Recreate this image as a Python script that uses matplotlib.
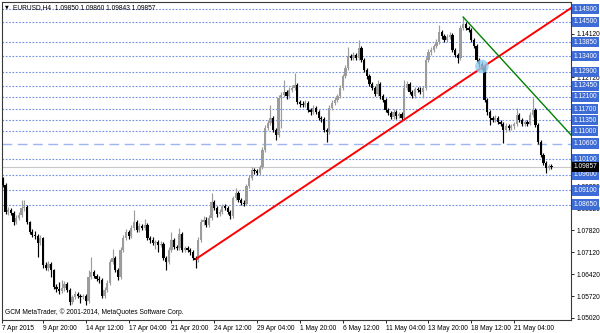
import numpy as np
import matplotlib.pyplot as plt

# EURUSD H4 candles, bar 1 .. 206
closes = [
    1.0928, 1.0841, 1.0848, 1.0838, 1.0809, 1.0822, 1.0832, 1.0854, 1.0857, 1.0809,
    1.0777, 1.0768, 1.0764, 1.0742, 1.0758, 1.0672, 1.0662, 1.0675, 1.0656, 1.0601,
    1.0595, 1.0588, 1.0598, 1.0611, 1.0592, 1.0553, 1.0569, 1.0579, 1.0572, 1.0569,
    1.0572, 1.0556, 1.0633, 1.0649, 1.0636, 1.0627, 1.0624, 1.0572, 1.0592, 1.0614,
    1.0681, 1.0694, 1.0656, 1.0633, 1.0720, 1.0758, 1.0777, 1.0764, 1.0790, 1.0809,
    1.0784, 1.0796, 1.0790, 1.0800, 1.0758, 1.0752, 1.0742, 1.0745, 1.0736, 1.0739,
    1.0694, 1.0681, 1.0720, 1.0752, 1.0729, 1.0726, 1.0771, 1.0720, 1.0726, 1.0720,
    1.0713, 1.0694, 1.0688, 1.0752, 1.0809, 1.0816, 1.0800, 1.0822, 1.0873, 1.0854,
    1.0835, 1.0841, 1.0860, 1.0854, 1.0841, 1.0828, 1.0886, 1.0902, 1.0880, 1.0870,
    1.0867, 1.0924, 1.0950, 1.0976, 1.0972, 1.0966, 1.0985, 1.1040, 1.1110, 1.1126,
    1.1142, 1.1104, 1.1088, 1.1206, 1.1216, 1.1225, 1.1212, 1.1232, 1.1238, 1.1248,
    1.1193, 1.1187, 1.1184, 1.1190, 1.1168, 1.1161, 1.1174, 1.1161, 1.1142, 1.1139,
    1.1104, 1.1097, 1.1174, 1.1190, 1.1200, 1.1212, 1.1238, 1.1276, 1.1302, 1.1340,
    1.1334, 1.1344, 1.1334, 1.1366, 1.1328, 1.1296, 1.1276, 1.1251, 1.1238, 1.1219,
    1.1251, 1.1212, 1.1200, 1.1168, 1.1158, 1.1145, 1.1161, 1.1148, 1.1155, 1.1142,
    1.1238, 1.1251, 1.1225, 1.1212, 1.1235, 1.1232, 1.1225, 1.1238, 1.1328, 1.1353,
    1.1360, 1.1372, 1.1385, 1.1417, 1.1404, 1.1392, 1.1401, 1.1408, 1.1360, 1.1344,
    1.1334, 1.1430, 1.1443, 1.1430, 1.1424, 1.1392, 1.1372, 1.1328, 1.1315, 1.1305,
    1.1200, 1.1161, 1.1142, 1.1136, 1.1142, 1.1129, 1.1123, 1.1104, 1.1116, 1.1110,
    1.1116, 1.1123, 1.1152, 1.1136, 1.1123, 1.1129, 1.1123, 1.1152, 1.1168, 1.1120,
    1.1065, 1.1024, 1.0998, 1.0982, 1.0988, 1.09857,
]
highs = [
    1.0953, 1.0935, 1.0856, 1.0855, 1.0845, 1.0830, 1.0840, 1.0880, 1.0878, 1.0862,
    1.0814, 1.0786, 1.0780, 1.0770, 1.0766, 1.0762, 1.0680, 1.0685, 1.0682, 1.0660,
    1.0610, 1.0617, 1.0624, 1.0620, 1.0618, 1.0598, 1.0576, 1.0588, 1.0585, 1.0580,
    1.0580, 1.0578, 1.0656, 1.0697, 1.0656, 1.0643, 1.0635, 1.0630, 1.0600, 1.0622,
    1.0690, 1.0724, 1.0700, 1.0662, 1.0730, 1.0768, 1.0788, 1.0785, 1.0800, 1.0848,
    1.0815, 1.0806, 1.0803, 1.0820, 1.0806, 1.0765, 1.0760, 1.0752, 1.0750, 1.0748,
    1.0744, 1.0700, 1.0728, 1.0777, 1.0758, 1.0736, 1.0790, 1.0776, 1.0734, 1.0732,
    1.0726, 1.0718, 1.0700, 1.0760, 1.0818, 1.0828, 1.0824, 1.0830, 1.0902, 1.0880,
    1.0860, 1.0850, 1.0868, 1.0866, 1.0860, 1.0846, 1.0894, 1.0918, 1.0908, 1.0886,
    1.0878, 1.0932, 1.0958, 1.0984, 1.0982, 1.0980, 1.0992, 1.1048, 1.1118, 1.1136,
    1.1184, 1.1148, 1.1110, 1.1216, 1.1225, 1.1264, 1.1232, 1.1240, 1.1246, 1.1286,
    1.1254, 1.1200, 1.1195, 1.1198, 1.1196, 1.1175, 1.1182, 1.1180, 1.1166, 1.1148,
    1.1144, 1.1110, 1.1182, 1.1198, 1.1208, 1.1220, 1.1246, 1.1284, 1.1310, 1.1369,
    1.1348, 1.1352, 1.1350, 1.1392, 1.1372, 1.1334, 1.1302, 1.1282, 1.1258, 1.1244,
    1.1264, 1.1258, 1.1218, 1.1206, 1.1175, 1.1164, 1.1170, 1.1168, 1.1162, 1.1160,
    1.1264, 1.1260, 1.1258, 1.1232, 1.1242, 1.1242, 1.1240, 1.1245, 1.1336, 1.1362,
    1.1370, 1.1380, 1.1394, 1.1440, 1.1424, 1.1410, 1.1410, 1.1416, 1.1414, 1.1366,
    1.1350, 1.1440, 1.1465, 1.1450, 1.1436, 1.1430, 1.1398, 1.1378, 1.1334, 1.1322,
    1.1310, 1.1206, 1.1168, 1.1148, 1.1150, 1.1148, 1.1136, 1.1130, 1.1125, 1.1124,
    1.1124, 1.1130, 1.1174, 1.1158, 1.1142, 1.1136, 1.1134, 1.1160, 1.1206, 1.1174,
    1.1126, 1.1070, 1.1030, 1.1004, 1.0996, 1.0994,
]
lows = [
    1.0920, 1.0835, 1.0833, 1.0830, 1.0800, 1.0802, 1.0815, 1.0826, 1.0845, 1.0803,
    1.0770, 1.0760, 1.0755, 1.0698, 1.0735, 1.0662, 1.0655, 1.0652, 1.0633, 1.0595,
    1.0586, 1.0580, 1.0582, 1.0590, 1.0585, 1.0544, 1.0547, 1.0562, 1.0565, 1.0550,
    1.0562, 1.0542, 1.0550, 1.0628, 1.0630, 1.0620, 1.0615, 1.0566, 1.0565, 1.0586,
    1.0608, 1.0675, 1.0650, 1.0625, 1.0628, 1.0712, 1.0750, 1.0756, 1.0758, 1.0784,
    1.0776, 1.0778, 1.0782, 1.0784, 1.0750, 1.0742, 1.0735, 1.0722, 1.0713, 1.0728,
    1.0688, 1.0656, 1.0675, 1.0714, 1.0722, 1.0718, 1.0720, 1.0714, 1.0712, 1.0712,
    1.0705, 1.0686, 1.0662, 1.0682, 1.0745, 1.0800, 1.0792, 1.0794, 1.0815, 1.0846,
    1.0826, 1.0828, 1.0835, 1.0846, 1.0834, 1.0820, 1.0822, 1.0880, 1.0874, 1.0862,
    1.0860, 1.0862, 1.0918, 1.0944, 1.0964, 1.0958, 1.0960, 1.0980, 1.1034, 1.1102,
    1.1120, 1.1098, 1.1072, 1.1080, 1.1110, 1.1208, 1.1204, 1.1206, 1.1225, 1.1230,
    1.1186, 1.1178, 1.1176, 1.1176, 1.1160, 1.1152, 1.1155, 1.1154, 1.1135, 1.1130,
    1.1096, 1.1066, 1.1092, 1.1168, 1.1184, 1.1194, 1.1206, 1.1232, 1.1270, 1.1296,
    1.1326, 1.1328, 1.1326, 1.1328, 1.1320, 1.1288, 1.1268, 1.1244, 1.1230, 1.1212,
    1.1212, 1.1204, 1.1192, 1.1160, 1.1150, 1.1138, 1.1140, 1.1140, 1.1142, 1.1135,
    1.1136, 1.1230, 1.1218, 1.1205, 1.1206, 1.1225, 1.1218, 1.1206, 1.1232, 1.1320,
    1.1345, 1.1352, 1.1365, 1.1378, 1.1396, 1.1385, 1.1386, 1.1394, 1.1352, 1.1336,
    1.1318, 1.1328, 1.1425, 1.1422, 1.1416, 1.1385, 1.1365, 1.1320, 1.1306, 1.1296,
    1.1192, 1.1152, 1.1120, 1.1128, 1.1130, 1.1122, 1.1115, 1.1062, 1.1098, 1.1102,
    1.1104, 1.1108, 1.1116, 1.1128, 1.1115, 1.1116, 1.1115, 1.1118, 1.1146, 1.1112,
    1.1058, 1.1016, 1.0990, 1.0966, 1.0974, 1.0980,
]
first_open = 1.0950
opens = [first_open] + closes[:-1]
bars = np.arange(1, len(closes) + 1)

# horizontal levels drawn on the chart
dotted_levels = [1.14900, 1.14500, 1.13850, 1.13400, 1.12900, 1.12450, 1.12100,
                 1.11700, 1.11350, 1.11000, 1.10100, 1.09600, 1.09100, 1.08650]
dashed_level = 1.10600
bid = 1.09857

# price scale (labels hidden under the level boxes are left blank)
scale_ticks = [1.05020, 1.05720, 1.06420, 1.07120, 1.07820, 1.08520, 1.09220,
               1.09920, 1.10620, 1.11320, 1.12020, 1.12720, 1.13420, 1.14120, 1.14820]
scale_labels = ['1.05020', '1.05720', '1.06420', '1.07120', '1.07820', '1.08520', '1.09220',
                '', '', '', '', '1.12720', '', '1.14120', '']

# time scale labels (bar index, text)
time_ticks = [16, 32, 48, 64, 80, 96, 112, 128, 144, 160, 176, 192]
time_labels = ['9 Apr 20:00', '14 Apr 12:00', '17 Apr 04:00', '21 Apr 20:00',
               '24 Apr 12:00', '29 Apr 04:00', '1 May 20:00', '6 May 12:00',
               '11 May 04:00', '13 May 20:00', '18 May 12:00', '21 May 04:00']

# trend lines (bar, price)
red_bars = [73, 213.5]
red_prices = [1.0690, 1.1495]
green_bars = [173, 213.5]
green_prices = [1.1465, 1.1086]
mark_bar, mark_price = 180, 1.1307

fnt = 'Liberation Sans'
fs = 4.8
blue_box = '#3E6CD6'
dot_col = '#6F8EE3'

fig = plt.figure(figsize=(6, 3.33), dpi=100)
ax = fig.add_axes([2 / 600, 13 / 333, 569 / 600, 318 / 333])
ax.set_xlim(0.67, 213.3)
ax.set_ylim(1.04956, 1.15132)

for lv in dotted_levels:
    ax.axhline(lv, color=dot_col, lw=0.8, ls=(0, (1.5, 1.5)), zorder=1)
ax.axhline(dashed_level, color='#9DB5F2', lw=1.0, ls=(0, (7, 4)), zorder=1)
ax.axhline(bid, color='#C8C8C8', lw=0.8, zorder=1)

o = np.array(opens)
c = np.array(closes)
cols = np.where(c >= o, '#9C9C9C', '#000000')
ax.vlines(bars, lows, highs, colors=cols, lw=0.85, zorder=2)
body = np.maximum(np.abs(c - o), 0.00014)
ax.bar(bars, body, bottom=np.minimum(o, c), width=0.85, color=cols, zorder=3)

ax.plot(red_bars, red_prices, color='#FF0000', lw=1.4, zorder=4, solid_capstyle='butt')
ax.plot(green_bars, green_prices, color='#008000', lw=1.0, zorder=4)
ax.scatter([mark_bar], [mark_price], s=95, color='#8FCDF2', alpha=0.8,
           edgecolors='none', zorder=5)

# axes look
for sp in ax.spines.values():
    sp.set_color('#3A3A3A')
    sp.set_linewidth(0.8)
ax.yaxis.tick_right()
ax.set_yticks(scale_ticks)
ax.set_yticklabels(scale_labels, fontsize=fs, family=fnt)
ax.tick_params(axis='y', length=2, width=0.6, pad=2, colors='#000000')
ax.set_xticks([0.67] + time_ticks)
ax.set_xticklabels(['7 Apr 2015'] + time_labels, fontsize=fs, family=fnt)
ax.tick_params(axis='x', length=2, width=0.6, pad=1.5)
for lab in ax.get_xticklabels():
    lab.set_horizontalalignment('left')

ytr = ax.get_yaxis_transform()
for lv in dotted_levels + [dashed_level]:
    ax.text(1.004, lv, '%.5f' % lv, transform=ytr, fontsize=fs, family=fnt,
            color='white', va='center', ha='left', clip_on=False, zorder=10,
            bbox=dict(boxstyle='square,pad=0.25', fc=blue_box, ec='none'))
ax.text(1.004, bid, '%.5f' % bid, transform=ytr, fontsize=fs, family=fnt,
        color='white', va='center', ha='left', clip_on=False, zorder=10,
        bbox=dict(boxstyle='square,pad=0.25', fc='black', ec='none'))

ax.text(0.006, 0.992, '\u25bc', transform=ax.transAxes, fontsize=3.5,
        va='top', ha='left', family='DejaVu Sans')
ax.text(0.02, 0.995, 'EURUSD,H4  1.09850 1.09860 1.09843 1.09857',
        transform=ax.transAxes, fontsize=fs, family=fnt, va='top', ha='left')
ax.text(0.006, 0.012, 'GCM MetaTrader, \u00a9 2001-2014, MetaQuotes Software Corp.',
        transform=ax.transAxes, fontsize=fs, family=fnt, va='bottom', ha='left')

fig.savefig('out.png', dpi=100)
